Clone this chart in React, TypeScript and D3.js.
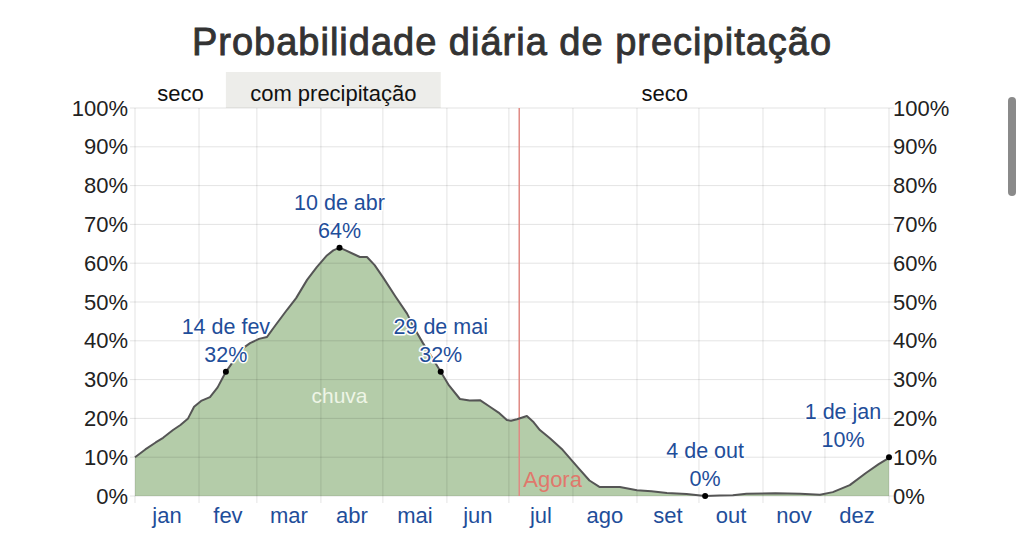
import React from "react";
import * as d3 from "d3";

const W = 1024;
const H = 544;

// Day of year (0 = 1 Jan) and daily precipitation probability (%)
const days = [0, 5, 10, 13.6, 18.4, 22, 25.7, 28.6, 32, 36.3, 40, 44, 48, 52, 55.7, 60, 63.9, 68, 73.6, 78, 83.3, 88, 92.9, 96, 99, 102, 106, 108.9, 112.3, 116, 120, 126, 131.7, 136, 139.4, 144, 148, 152, 157.3, 162, 167, 171.8, 176, 180, 182, 184.9, 189.7, 193, 196, 201, 207, 215, 220, 225, 234.7, 243, 250, 257.5, 267, 276, 283, 289.4, 296, 310, 322, 331.6, 337.8, 346, 354, 360, 365];
const values = [10, 12, 13.8, 15, 17, 18.3, 20, 23, 24.5, 25.5, 28, 32, 35, 38, 39.4, 40.5, 41, 44, 48, 51, 55.7, 59, 62, 63.3, 64, 63.3, 62.3, 61.6, 61.6, 59.5, 56.4, 51.5, 47, 42.5, 39.4, 35.5, 32, 28.5, 25, 24.6, 24.7, 23, 21.5, 19.6, 19.4, 19.8, 20.6, 19, 17, 14.8, 11.9, 7, 4, 2.3, 2.3, 1.5, 1.2, 0.8, 0.5, 0, 0.1, 0.2, 0.6, 0.7, 0.6, 0.3, 1, 2.8, 6, 8.2, 9.8];

const monthStarts = [0, 31, 59, 90, 120, 151, 181, 212, 243, 273, 304, 334, 365];
const monthNames = ["jan", "fev", "mar", "abr", "mai", "jun", "jul", "ago", "set", "out", "nov", "dez"];
const yTicks = [0, 10, 20, 30, 40, 50, 60, 70, 80, 90, 100];

const bandStarts = [0, 44, 148];
const bandEnds = [44, 148, 365];
const bandLabels = ["seco", "com precipitação", "seco"];
const bandShaded = [false, true, false];

const annDays = [44, 99, 148, 276, 365];
const annValues = [32, 64, 32, 0, 10];
const annDates = ["14 de fev", "10 de abr", "29 de mai", "4 de out", "1 de jan"];
const annPcts = ["32%", "64%", "32%", "0%", "10%"];

const nowDay = 186;

const FONT = "'Liberation Sans', Arial, Helvetica, sans-serif";

export default function App() {
  const left = 135, right = 889, top = 108, bottom = 496;
  const x = d3.scaleLinear().domain([0, 365]).range([left, right]);
  const y = d3.scaleLinear().domain([0, 100]).range([bottom, top]);

  const pts: [number, number][] = days.map((d, i) => [d, values[i]]);
  const area = d3.area<[number, number]>().x(d => x(d[0])).y0(y(0)).y1(d => y(d[1]));
  const line = d3.line<[number, number]>().x(d => x(d[0])).y(d => y(d[1]));

  const blue = "#1f4e9a";
  const gridColor = "rgba(0,0,0,0.11)";

  return (
    <svg width={W} height={H} style={{ position: "absolute", left: 0, top: 0, background: "#fff" }} fontFamily={FONT}>
      <text x={W / 2} y={55} textAnchor="middle" fontSize={38} fontWeight={400} fill="#333"
        stroke="#333" strokeWidth={0.9} letterSpacing={1}>
        Probabilidade diária de precipitação
      </text>

      {/* bands */}
      {bandLabels.map((lab, i) => (
        <g key={"b" + i}>
          {bandShaded[i] && (
            <rect x={x(bandStarts[i])} y={72} width={x(bandEnds[i]) - x(bandStarts[i])} height={top - 72} fill="#ededea" />
          )}
          <text x={(x(bandStarts[i]) + x(bandEnds[i])) / 2} y={101} textAnchor="middle" fontSize={22} fill="#111">
            {lab}
          </text>
        </g>
      ))}

      {/* area */}
      <path d={area(pts) || ""} fill="#b4cca9" />

      {/* grid */}
      {yTicks.map(t => (
        <line key={"h" + t} x1={left - 5} x2={right + 5} y1={y(t)} y2={y(t)} stroke={gridColor} strokeWidth={1} />
      ))}
      {monthStarts.map(m => (
        <line key={"v" + m} x1={x(m)} x2={x(m)} y1={top} y2={bottom + 7} stroke={gridColor} strokeWidth={1} />
      ))}

      {/* now line */}
      <line x1={x(nowDay)} x2={x(nowDay)} y1={top} y2={bottom} stroke="#e08a84" strokeWidth={1.5} />
      <text x={x(nowDay) + 4} y={487} fontSize={22} fill="#e0786c">Agora</text>

      {/* curve */}
      <path d={line(pts) || ""} fill="none" stroke="#555" strokeWidth={2} strokeLinejoin="round" />

      <text x={x(99)} y={403} textAnchor="middle" fontSize={21} fill="#eef5e6">chuva</text>

      {/* y axis labels */}
      {yTicks.map(t => (
        <g key={"yl" + t}>
          <text x={128} y={y(t) + 7.5} textAnchor="end" fontSize={22} fill="#222">{t}%</text>
          <text x={893} y={y(t) + 7.5} textAnchor="start" fontSize={22} fill="#222">{t}%</text>
        </g>
      ))}

      {/* month labels */}
      {monthNames.map((m, i) => (
        <text key={m} x={x((monthStarts[i] + monthStarts[i + 1]) / 2)} y={523} textAnchor="middle" fontSize={22} fill={blue}>
          {m}
        </text>
      ))}

      {/* annotations */}
      {annDays.map((d, i) => {
        const px = x(d), py = y(annValues[i]);
        const cx = Math.min(px, right - 46);
        return (
          <g key={"a" + i}>
            <circle cx={px} cy={py} r={3} fill="#000" />
            <text x={cx} y={py - 38} textAnchor="middle" fontSize={21.5} fill={blue}
              stroke="#fff" strokeWidth={3} paintOrder="stroke" strokeLinejoin="round">{annDates[i]}</text>
            <text x={cx} y={py - 10} textAnchor="middle" fontSize={21.5} fill={blue}
              stroke="#fff" strokeWidth={3} paintOrder="stroke" strokeLinejoin="round">{annPcts[i]}</text>
          </g>
        );
      })}

      {/* scrollbar artifact */}
      <rect x={1008} y={97} width={8} height={99} rx={4} fill="#8a8a8a" />
    </svg>
  );
}
